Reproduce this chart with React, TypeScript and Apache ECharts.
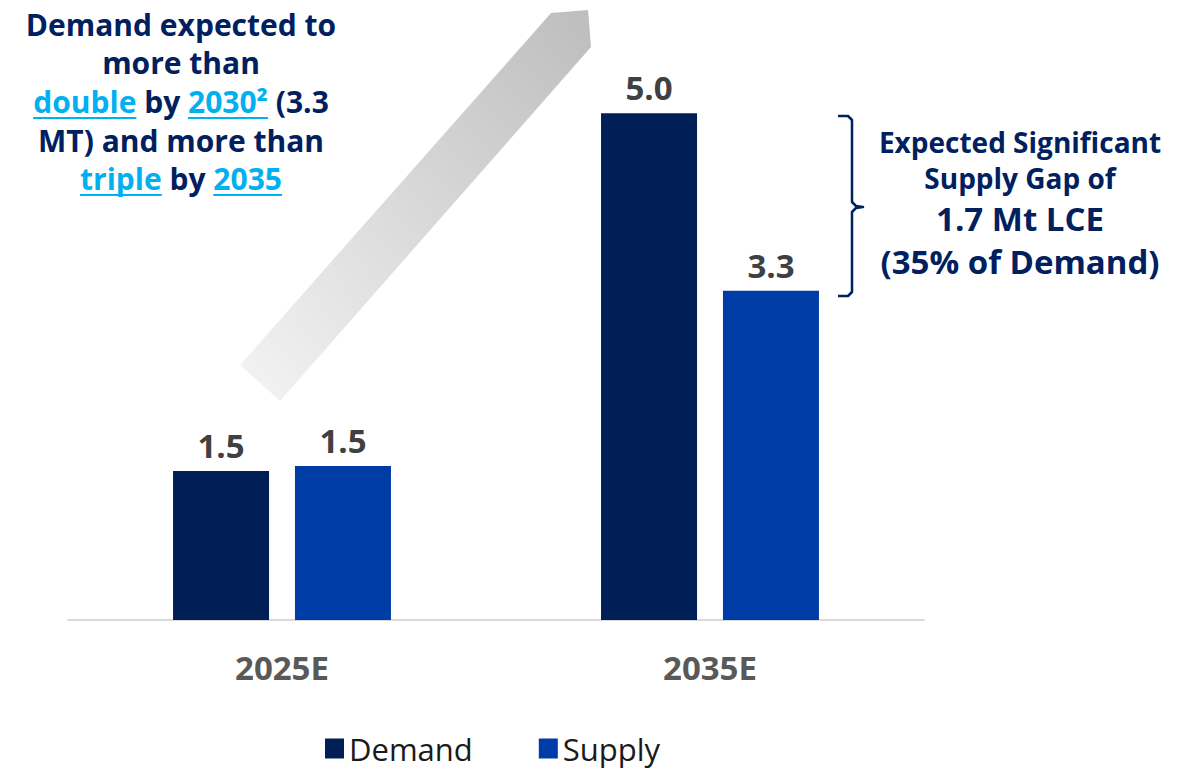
import React, { useEffect, useRef } from "react";
import * as echarts from "echarts";

const categories = ["2025E", "2035E"];
const demandValues = [1.47, 5.0];
const supplyValues = [1.52, 3.25];
const seriesNames = ["Demand", "Supply"];

const FONT = "'Open Sans', 'Noto Sans', sans-serif";
const NAVY = "#002060";
const LINK = "#00b0f0";

type Seg = { t: string; c: string; u?: boolean };
const noteLines: Seg[][] = [
  [{ t: "Demand expected to", c: NAVY }],
  [{ t: "more than", c: NAVY }],
  [
    { t: "double", c: LINK, u: true },
    { t: " by ", c: NAVY },
    { t: "2030²", c: LINK, u: true },
    { t: " (3.3", c: NAVY },
  ],
  [{ t: "MT) and more than", c: NAVY }],
  [
    { t: "triple", c: LINK, u: true },
    { t: " by ", c: NAVY },
    { t: "2035", c: LINK, u: true },
  ],
];

function measure(text: string, size: number, weight: string): number {
  const cv = document.createElement("canvas");
  const ctx = cv.getContext("2d")!;
  ctx.font = `${weight} ${size}px ${FONT}`;
  return ctx.measureText(text).width;
}

export default function App() {
  const ref = useRef<HTMLDivElement>(null);
  useEffect(() => {
    document.body.style.margin = "0";
    const chart = echarts.init(ref.current!, null, { renderer: "svg" });

    const size = 30;
    const weight = "bold";
    const cx = 181;
    const lineYs = [24, 62, 101, 140, 178];
    const noteEls: any[] = [];
    noteLines.forEach((segs, i) => {
      const widths = segs.map((s) => measure(s.t, size, weight));
      const total = widths.reduce((a, b) => a + b, 0);
      let x = cx - total / 2;
      segs.forEach((s, j) => {
        noteEls.push({
          type: "text",
          x,
          y: lineYs[i],
          style: {
            text: s.t,
            fill: s.c,
            font: `${weight} ${size}px ${FONT}`,
            textAlign: "left",
            textVerticalAlign: "middle",
          },
        });
        if (s.u) {
          noteEls.push({
            type: "line",
            shape: { x1: x, y1: lineYs[i] + 17, x2: x + widths[j], y2: lineYs[i] + 17 },
            style: { stroke: s.c, lineWidth: 2 },
          });
        }
        x += widths[j];
      });
    });

    const bracketText = (text: string, y: number, fs: number) => ({
      type: "text",
      x: 1020,
      y,
      style: {
        text,
        fill: NAVY,
        font: `bold ${fs}px ${FONT}`,
        textAlign: "center",
        textVerticalAlign: "middle",
      },
    });

    const labelStyle = {
      show: true,
      position: "top",
      distance: 9,
      fontSize: 33,
      fontWeight: "bold",
      color: "#404040",
      fontFamily: FONT,
      formatter: (p: any) => Number(p.value).toFixed(1),
    };

    chart.setOption({
      animation: false,
      grid: { left: 68, right: 258, top: 12, bottom: 152 },
      legend: {
        data: seriesNames,
        left: 325,
        top: 733,
        icon: "rect",
        itemWidth: 19,
        itemHeight: 20,
        itemGap: 66,
        padding: 0,
        textStyle: {
          fontSize: 31,
          lineHeight: 31,
          color: "#1a1a1a",
          fontFamily: FONT,
          padding: [0, 0, 0, 0],
        },
      },
      xAxis: {
        type: "category",
        data: categories,
        axisTick: { show: false },
        axisLine: { lineStyle: { color: "#d9d9d9", width: 2 } },
        axisLabel: {
          margin: 31,
          fontSize: 33,
          fontWeight: "bold",
          color: "#595959",
          fontFamily: FONT,
        },
      },
      yAxis: {
        type: "value",
        min: 0,
        max: 6,
        show: false,
        splitLine: { show: false },
      },
      graphic: [
        {
          type: "polygon",
          shape: {
            points: [
              [240, 365],
              [551, 13],
              [588, 10],
              [591, 47],
              [280, 401],
            ],
          },
          style: {
            fill: {
              type: "linear",
              x: 0,
              y: 1,
              x2: 1,
              y2: 0,
              colorStops: [
                { offset: 0, color: "#f4f4f4" },
                { offset: 1, color: "#bdbdbd" },
              ],
            },
          },
          z: -1,
        },
        ...noteEls,
        {
          type: "polyline",
          shape: {
            points: [
              [838, 116],
              [848, 116],
              [852, 120],
              [852, 202],
              [856, 206],
              [863, 207],
              [856, 208],
              [852, 212],
              [852, 292],
              [848, 296],
              [838, 296],
            ],
          },
          style: { stroke: NAVY, lineWidth: 2.5, fill: null, lineJoin: "round" },
        },
        bracketText("Expected Significant", 142, 28),
        bracketText("Supply Gap of", 178, 28),
        bracketText("1.7 Mt LCE", 218, 33),
        bracketText("(35% of Demand)", 261, 33),
      ],
      series: [
        {
          name: seriesNames[0],
          type: "bar",
          data: demandValues,
          barWidth: 96,
          barGap: "27%",
          itemStyle: { color: "#001f57" },
          label: labelStyle,
        },
        {
          name: seriesNames[1],
          type: "bar",
          data: supplyValues,
          barWidth: 96,
          itemStyle: { color: "#003ca5" },
          label: labelStyle,
        },
      ],
    });
    return () => chart.dispose();
  }, []);
  return <div ref={ref} style={{ width: 1182, height: 772 }} />;
}
